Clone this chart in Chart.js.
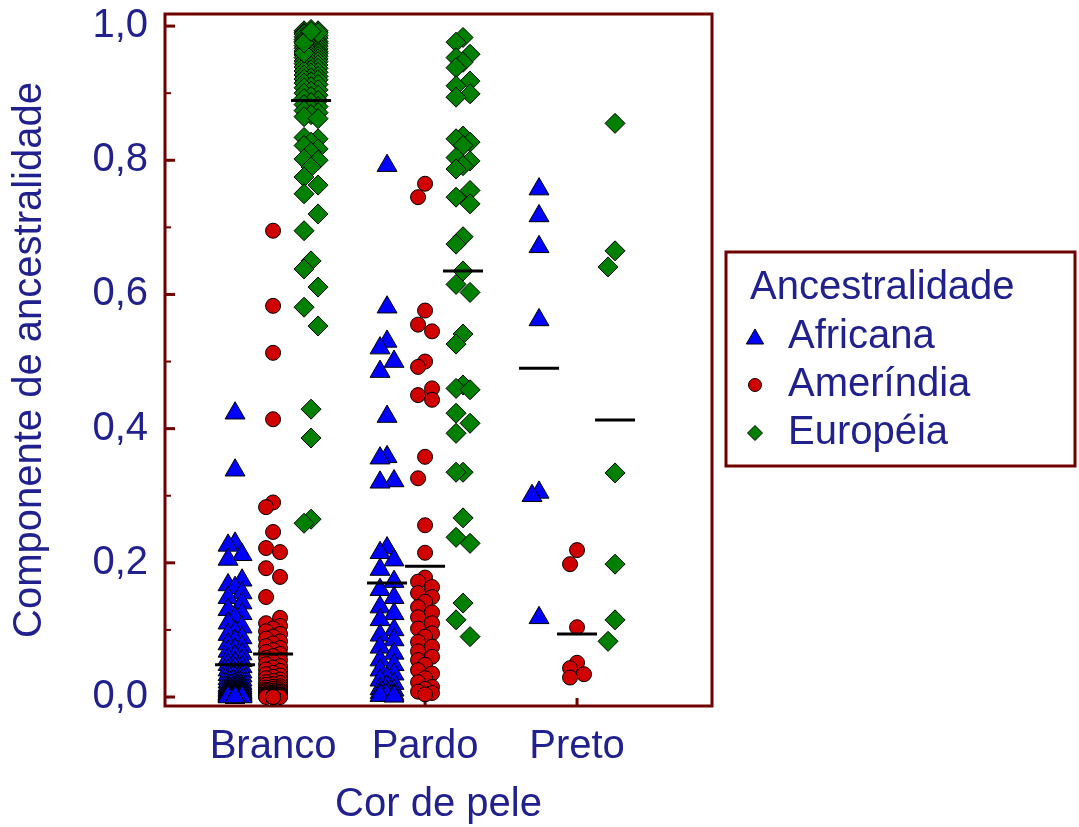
<!DOCTYPE html>
<html><head><meta charset="utf-8">
<script src="https://cdn.jsdelivr.net/npm/chart.js@4.4.1/dist/chart.umd.min.js"></script>
<style>html,body{margin:0;padding:0;background:#fff;overflow:hidden}canvas{display:block}</style>
</head><body>
<canvas id="c" width="1079" height="827"></canvas>
<script>
// ---------- data ----------
const categories = ['Branco', 'Pardo', 'Preto'];
const seriesNames = ['Africana', 'Ameríndia', 'Européia'];
const legendTitle = 'Ancestralidade';
const xAxisTitle = 'Cor de pele';
const yAxisTitle = 'Componente de ancestralidade';
const yTickValues = [0, 0.2, 0.4, 0.6, 0.8, 1.0];
const yMinorTickValues = [0.1, 0.3, 0.5, 0.7, 0.9];

const africanaBranco = [0.423, 0.338, 0.229, 0.226, 0.212, 0.205, 0.174, 0.167, 0.163, 0.155, 0.148, 0.14, 0.13, 0.124, 0.118, 0.11, 0.104,
  0.097, 0.093, 0.088, 0.084, 0.079, 0.075, 0.071, 0.068, 0.064, 0.061, 0.057, 0.054, 0.051, 0.048, 0.045, 0.043, 0.04, 0.037, 0.035, 0.033,
  0.031, 0.029, 0.027, 0.025, 0.023, 0.022, 0.02, 0.019, 0.017, 0.016, 0.015, 0.014, 0.013, 0.012, 0.011, 0.01, 0.009, 0.009, 0.008, 0.007,
  0.007, 0.006, 0.006, 0.005, 0.005, 0.004, 0.004, 0.004, 0.003, 0.003, 0.003, 0.002, 0.002, 0.002, 0.002, 0.001, 0.001, 0.001, 0.001, 0.001,
  0.001, 0, 0, 0, 0, 0, 0, 0, 0, 0, 0, 0, 0, 0, 0, 0, 0, 0, 0, 0, 0, 0];
const africanaPardo = [0.792, 0.581, 0.53, 0.52, 0.5, 0.485, 0.418, 0.358, 0.356, 0.322, 0.32, 0.222, 0.215, 0.204, 0.19, 0.172, 0.16, 0.148,
  0.134, 0.124, 0.115, 0.1, 0.092, 0.085, 0.074, 0.065, 0.055, 0.048, 0.04, 0.034, 0.028, 0.025, 0.02, 0.016, 0.012, 0.01, 0.008, 0.006,
  0.004, 0.003, 0.002, 0.001];
const africanaPreto = [0.757, 0.717, 0.671, 0.562, 0.305, 0.3, 0.118];

const amerindiaBranco = [0.695, 0.583, 0.513, 0.414, 0.29, 0.283, 0.246, 0.222, 0.216, 0.192, 0.179, 0.149, 0.118, 0.11,
  0.106, 0.102, 0.098, 0.094, 0.09, 0.087, 0.083, 0.08, 0.076, 0.073, 0.07, 0.067, 0.064, 0.061, 0.058, 0.055, 0.052, 0.049, 0.046, 0.044,
  0.041, 0.039, 0.036, 0.034, 0.032, 0.03, 0.028, 0.026, 0.024, 0.022, 0.021, 0.019, 0.018, 0.016, 0.015, 0.014, 0.013, 0.012, 0.011, 0.01,
  0.009, 0.009, 0.008, 0.007, 0.007, 0.006, 0.006, 0.005, 0.005, 0.004, 0.004, 0.004, 0.003, 0.003, 0.003, 0.002, 0.002, 0.002, 0.002, 0.001,
  0.001, 0.001, 0.001, 0.001, 0, 0, 0, 0, 0, 0, 0, 0, 0, 0, 0, 0, 0, 0, 0, 0, 0, 0, 0, 0, 0, 0];
const amerindiaPardo = [0.765, 0.745, 0.576, 0.555, 0.545, 0.5, 0.492, 0.46, 0.45, 0.443, 0.358, 0.326, 0.256, 0.215,
  0.178, 0.172, 0.164, 0.155, 0.149, 0.142, 0.134, 0.126, 0.119, 0.11, 0.102, 0.095, 0.09, 0.082, 0.075, 0.068, 0.06, 0.055, 0.048, 0.04,
  0.035, 0.028, 0.022, 0.015, 0.012, 0.008, 0.006, 0.004];
const amerindiaPreto = [0.219, 0.198, 0.104, 0.051, 0.043, 0.034, 0.029];

const europeiaBranco = [0.995, 0.993, 0.993, 0.99, 0.989, 0.988, 0.986, 0.985, 0.984, 0.982, 0.982, 0.98, 0.979, 0.977, 0.977, 0.975,
  0.974, 0.972, 0.971, 0.97, 0.969, 0.967, 0.966, 0.965, 0.963, 0.962, 0.961, 0.959, 0.958, 0.957, 0.955, 0.954, 0.953, 0.951, 0.95, 0.948,
  0.947, 0.945, 0.944, 0.942, 0.94, 0.939, 0.937, 0.935, 0.933, 0.931, 0.93, 0.927, 0.925, 0.923, 0.921, 0.92, 0.917, 0.915, 0.913, 0.91,
  0.908, 0.905, 0.903, 0.9, 0.897, 0.895, 0.892, 0.889, 0.886, 0.883, 0.88, 0.877, 0.874, 0.871, 0.868, 0.865, 0.862, 0.96, 0.975, 0.99, 0.992,
  0.834, 0.832, 0.827, 0.822, 0.817, 0.812, 0.802, 0.8, 0.79, 0.775, 0.763, 0.75, 0.72, 0.695, 0.65, 0.638, 0.611, 0.581, 0.553, 0.429,
  0.386, 0.265, 0.259];
const europeiaPardo = [0.983, 0.976, 0.958, 0.953, 0.946, 0.938, 0.918, 0.911, 0.899, 0.894, 0.836, 0.832, 0.827, 0.822, 0.804, 0.799,
  0.792, 0.787, 0.755, 0.745, 0.735, 0.686, 0.675, 0.635, 0.615, 0.603, 0.541, 0.526, 0.465, 0.46, 0.458, 0.423, 0.408, 0.393, 0.335,
  0.335, 0.267, 0.238, 0.229, 0.14, 0.115, 0.09];
const europeiaPreto = [0.855, 0.665, 0.641, 0.334, 0.198, 0.115, 0.083];

const meanAfricana = [0.048, 0.17, 0.49];
const meanAmerindia = [0.064, 0.195, 0.094];
const meanEuropeia = [0.889, 0.635, 0.413];

// ---------- styling / layout ----------
const FONT = "'Liberation Sans', Arial, Helvetica, sans-serif";
const TEXT = '#20208e';
const FRAME = '#6e0000';
const seriesOffset = [-0.25, 0, 0.25];   // column offset of each series inside a category
const PX_Y = 671, PX_X = 152;            // approx. pixels per unit, used for the swarm layout

// simple deterministic beeswarm so that overlapping markers spread sideways
function swarm(values) {
  const order = values.map((v, i) => i).sort((a, b) => values[b] - values[a]);
  const placed = [];
  const off = new Array(values.length).fill(0);
  const cands = [0, -7, 7];
  for (const i of order) {
    const y = values[i] * PX_Y;
    let best = 0, bestD = -1;
    for (const c of cands) {
      let d = Infinity;
      for (const p of placed) {
        const dy = y - p.y;
        if (Math.abs(dy) > 24) continue;
        d = Math.min(d, Math.hypot(c - p.x, dy));
      }
      if (d > bestD + 0.5) { bestD = d; best = c; }
    }
    placed.push({ x: best, y });
    off[i] = best / PX_X;
  }
  return off;
}
function points(groups, s) {
  const out = [];
  groups.forEach((vals, ci) => {
    const j = swarm(vals);
    vals.forEach((v, i) => out.push({ x: ci + 1 + seriesOffset[s] + j[i], y: v }));
  });
  return out;
}
function meanPoints(means, s) {
  return means.map((m, ci) => ({ x: ci + 1 + seriesOffset[s], y: m }));
}

const seriesStyle = [
  { pointStyle: 'triangle', radius: 11.5, color: '#0000ff', legendRadius: 10 },
  { pointStyle: 'circle', radius: 7.5, color: '#d00000', legendRadius: 6.5 },
  { pointStyle: 'rectRot', radius: 10, color: '#008000', legendRadius: 7.5 }
];
const groups = [
  [africanaBranco, africanaPardo, africanaPreto],
  [amerindiaBranco, amerindiaPardo, amerindiaPreto],
  [europeiaBranco, europeiaPardo, europeiaPreto]
];
const means = [meanAfricana, meanAmerindia, meanEuropeia];

const datasets = [];
means.forEach((m, s) => datasets.push({
  label: 'mean ' + seriesNames[s], data: meanPoints(m, s), order: 0,
  pointStyle: 'line', radius: 20, borderWidth: 3, borderColor: '#000', backgroundColor: '#000', clip: false
}));
groups.forEach((g, s) => datasets.push({
  label: seriesNames[s], data: points(g, s), order: s + 1,
  pointStyle: seriesStyle[s].pointStyle, radius: seriesStyle[s].radius,
  backgroundColor: seriesStyle[s].color, borderColor: '#000', borderWidth: 1, clip: false
}));

function drawMarker(ctx, style, r, x, y) {
  ctx.beginPath();
  if (style === 'triangle') {
    ctx.moveTo(x, y - r);
    ctx.lineTo(x + r * Math.sin(2 * Math.PI / 3), y - r * Math.cos(2 * Math.PI / 3));
    ctx.lineTo(x + r * Math.sin(4 * Math.PI / 3), y - r * Math.cos(4 * Math.PI / 3));
    ctx.closePath();
  } else if (style === 'circle') {
    ctx.arc(x, y, r, 0, Math.PI * 2);
  } else {
    ctx.moveTo(x - r, y); ctx.lineTo(x, y - r); ctx.lineTo(x + r, y); ctx.lineTo(x, y + r); ctx.closePath();
  }
  ctx.fill(); ctx.stroke();
}

const framePlugin = {
  id: 'framePlugin',
  beforeDatasetsDraw(chart) {
    const { ctx, chartArea: ca, scales } = chart;
    ctx.save();
    ctx.strokeStyle = FRAME;
    ctx.lineWidth = 3;
    ctx.strokeRect(ca.left, ca.top, ca.right - ca.left, ca.bottom - ca.top);
    yTickValues.forEach(v => {
      const y = scales.y.getPixelForValue(v);
      ctx.beginPath(); ctx.moveTo(ca.left, y); ctx.lineTo(ca.left + 10, y); ctx.stroke();
    });
    ctx.lineWidth = 2;
    yMinorTickValues.forEach(v => {
      const y = scales.y.getPixelForValue(v);
      ctx.beginPath(); ctx.moveTo(ca.left, y); ctx.lineTo(ca.left + 6, y); ctx.stroke();
    });
    ctx.lineWidth = 3;
    categories.forEach((c, i) => {
      const x = scales.x.getPixelForValue(i + 1);
      ctx.beginPath(); ctx.moveTo(x, ca.bottom); ctx.lineTo(x, ca.bottom - 8); ctx.stroke();
    });
    ctx.restore();
  },
  afterDraw(chart) {
    const { ctx, chartArea: ca } = chart;
    const bx = ca.right + 14, by = 252, bw = 349, bh = 214;
    ctx.save();
    ctx.strokeStyle = FRAME; ctx.lineWidth = 3;
    ctx.strokeRect(bx, by, bw, bh);
    ctx.fillStyle = TEXT;
    ctx.font = '40px ' + FONT;
    ctx.textBaseline = 'middle'; ctx.textAlign = 'left';
    ctx.fillText(legendTitle, bx + 24, by + 36);
    seriesNames.forEach((name, s) => {
      const y = by + 85 + s * 48;
      ctx.fillStyle = seriesStyle[s].color; ctx.strokeStyle = '#000'; ctx.lineWidth = 1;
      drawMarker(ctx, seriesStyle[s].pointStyle, seriesStyle[s].legendRadius, bx + 29, y + (s === 0 ? 2 : 0));
      ctx.fillStyle = TEXT;
      ctx.fillText(name, bx + 62, y);
    });
    ctx.restore();
  }
};

new Chart(document.getElementById('c'), {
  type: 'scatter',
  data: { datasets },
  options: {
    responsive: false, animation: false, devicePixelRatio: 1, events: [],
    layout: { autoPadding: false, padding: { top: 14, right: 367, bottom: 0, left: 0 } },
    plugins: { legend: { display: false }, tooltip: { enabled: false } },
    scales: {
      x: {
        type: 'linear', min: 0.289, max: 3.888,
        afterBuildTicks: sc => { sc.ticks = categories.map((c, i) => ({ value: i + 1 })); },
        afterFit: sc => { sc.height = 121; sc.paddingLeft = 0; sc.paddingRight = 0; },
        ticks: { callback: (v, i) => categories[i], color: TEXT, font: { family: FONT, size: 40 }, padding: 17, autoSkip: false, maxRotation: 0 },
        grid: { display: false, drawTicks: false }, border: { display: false },
        title: { display: true, text: xAxisTitle, color: TEXT, font: { family: FONT, size: 40, lineHeight: 1.1 }, padding: { top: 0, bottom: 0 } }
      },
      y: {
        type: 'linear', min: -0.0134, max: 1.018,
        afterBuildTicks: sc => { sc.ticks = yTickValues.map(v => ({ value: v })); },
        afterFit: sc => { sc.width = 165; sc.paddingTop = 0; sc.paddingBottom = 0; },
        ticks: { callback: v => v.toFixed(1).replace('.', ','), color: TEXT, font: { family: FONT, size: 40 }, padding: 17 },
        grid: { display: false, drawTicks: false }, border: { display: false },
        title: { display: true, text: yAxisTitle, color: TEXT, font: { family: FONT, size: 40 }, padding: { top: 6, bottom: 0 } }
      }
    }
  },
  plugins: [framePlugin]
});
</script>
</body></html>
